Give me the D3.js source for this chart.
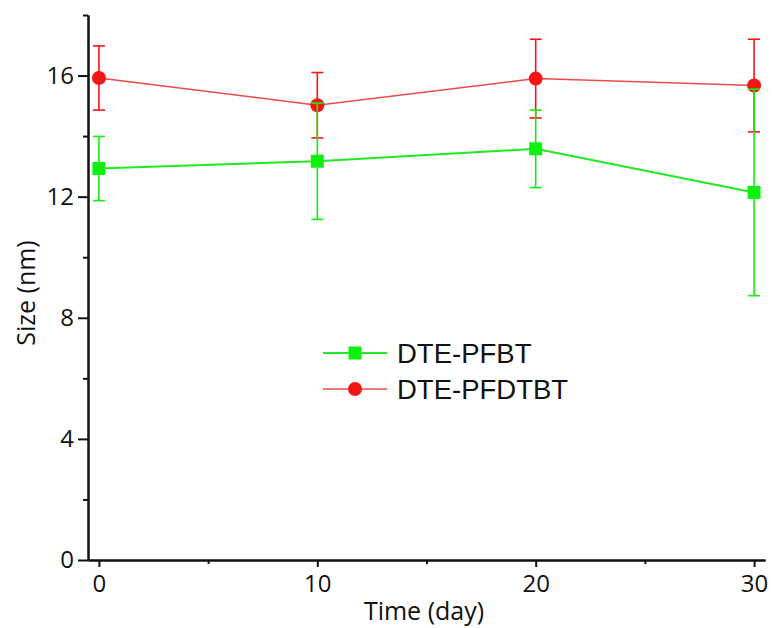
<!DOCTYPE html>
<html>
<head>
<meta charset="utf-8">
<script src="https://cdn.jsdelivr.net/npm/d3@7"></script>
<style>
  body { margin: 0; background: #fff; }
  svg { display: block; }
  .axis text { font-family: 'Open Sans', sans-serif; font-size: 24px; fill: #111; }
  .axis path, .axis line { stroke: #111; stroke-width: 2px; }
</style>
</head>
<body>
<svg id="chart" width="772" height="628"></svg>
<script>
  'use strict';

  // data
  var days = [0, 10, 20, 30];
  var pfbt = [12.93, 13.17, 13.58, 12.14];
  var pfbtErr = [1.06, 1.92, 1.28, 3.41];
  var pfdtbt = [15.92, 15.02, 15.9, 15.67];
  var pfdtbtErr = [1.06, 1.08, 1.3, 1.53];
  var yMajor = [0, 4, 8, 12, 16];
  var yMinor = [2, 6, 10, 14, 18];
  var xMajor = [0, 10, 20, 30];
  var xMinor = [5, 15, 25];

  var series = [
    { name: 'DTE-PFDTBT', values: pfdtbt, err: pfdtbtErr, color: '#f51515', line: '#f04a4a', shape: 'circle', lw: 1.5 },
    { name: 'DTE-PFBT', values: pfbt, err: pfbtErr, color: '#10f010', line: '#22ea22', shape: 'square', lw: 2 }
  ];

  var svg = d3.select('#chart');
  var x = d3.scaleLinear().domain([-0.5, 30.5]).range([88, 765]);
  var y = d3.scaleLinear().domain([0, 18]).range([560, 15]);

  // axes: minor ticks first, then major with labels
  svg.append('g').attr('class', 'axis').attr('transform', 'translate(88,0)')
      .call(d3.axisLeft(y).tickValues(yMinor).tickSize(5).tickSizeOuter(0).tickFormat(''));
  svg.append('g').attr('class', 'axis').attr('transform', 'translate(88,0)')
      .call(d3.axisLeft(y).tickValues(yMajor).tickSize(10).tickSizeOuter(0).tickPadding(4));
  svg.append('g').attr('class', 'axis').attr('transform', 'translate(0,560)')
      .call(d3.axisBottom(x).tickValues(xMinor).tickSize(4).tickSizeOuter(0).tickFormat(''));
  svg.append('g').attr('class', 'axis').attr('transform', 'translate(0,560)')
      .call(d3.axisBottom(x).tickValues(xMajor).tickSize(7).tickSizeOuter(0).tickPadding(8));

  // axis titles
  svg.append('text')
      .attr('x', 424).attr('y', 620)
      .style('font-family', "'Open Sans', sans-serif")
      .style('font-size', '25px')
      .style('text-anchor', 'middle')
      .style('fill', '#111')
      .text('Time (day)');
  svg.append('text')
      .attr('transform', 'translate(35,293) rotate(-90)')
      .style('font-family', "'Open Sans', sans-serif")
      .style('font-size', '25px')
      .style('text-anchor', 'middle')
      .style('fill', '#111')
      .text('Size (nm)');

  var line = d3.line().x(function(d, i) { return x(days[i]); }).y(function(d) { return y(d); });

  function marker(g, s, cx, cy) {
    if (s.shape === 'circle') {
      g.append('circle').attr('cx', cx).attr('cy', cy).attr('r', 7).style('fill', s.color);
    } else {
      g.append('rect').attr('x', cx - 6.5).attr('y', cy - 6.5).attr('width', 13).attr('height', 13).style('fill', s.color);
    }
  }

  series.forEach(function(s) {
    var g = svg.append('g');
    g.append('path')
        .attr('d', line(s.values))
        .style('fill', 'none')
        .style('stroke', s.line)
        .style('stroke-width', s.lw);
    s.values.forEach(function(v, i) {
      var cx = x(days[i]), top = y(v + s.err[i]), bot = y(v - s.err[i]);
      g.append('line').attr('x1', cx).attr('x2', cx).attr('y1', top).attr('y2', bot)
          .style('stroke', s.color).style('stroke-width', 1.6);
      [top, bot].forEach(function(yy) {
        g.append('line').attr('x1', cx - 6).attr('x2', cx + 6).attr('y1', yy).attr('y2', yy)
            .style('stroke', s.color).style('stroke-width', 1.6);
      });
      marker(g, s, cx, y(v));
    });
  });

  // legend
  var legend = [series[1], series[0]];
  legend.forEach(function(s, i) {
    var ly = 353 + i * 36;
    var g = svg.append('g');
    g.append('line').attr('x1', 323).attr('x2', 387).attr('y1', ly).attr('y2', ly)
        .style('stroke', s.line).style('stroke-width', s.lw);
    marker(g, s, 355, ly);
    g.append('text')
        .attr('x', 397).attr('y', ly + 10)
        .style('font-family', "'Liberation Sans', Arial, sans-serif")
        .style('font-size', '27.5px')
        .style('fill', '#111')
        .text(s.name);
  });
</script>
</body>
</html>
